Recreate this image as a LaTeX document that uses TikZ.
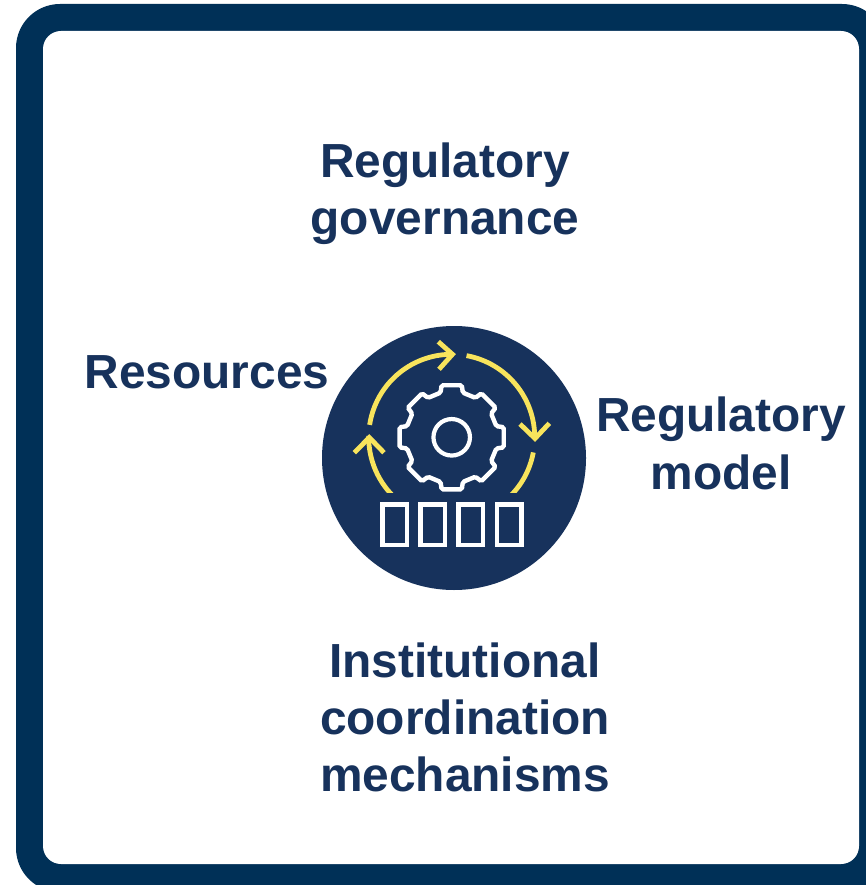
\documentclass[tikz,border=0pt]{standalone}
\usepackage{fontspec}
\setmainfont{Liberation Sans}
\definecolor{framenavy}{HTML}{003057}
\definecolor{inknavy}{HTML}{17325C}
\definecolor{arcyellow}{HTML}{F8E45C}
\tikzset{
  label text/.style={text=inknavy,font=\fontsize{47.85}{57.3}\selectfont\bfseries,align=center,inner sep=0pt},
  cycle arc/.style={draw=arcyellow,line width=4.8pt,line cap=butt},
  arrow head/.style={draw=arcyellow,line width=4.8pt,line join=miter},
  gear line/.style={draw=white,line width=4.4pt},
  slot box/.style={draw=white,line width=4.4pt,fill=none,minimum width=24.8pt,minimum height=40.6pt,inner sep=0pt}
}
\begin{document}
\begin{tikzpicture}[x=1pt,y=-1pt]
\useasboundingbox (0,0) rectangle (866,885);
\clip (0,0) rectangle (866,885);
\fill[white] (0,0) rectangle (866,885);
\fill[framenavy,rounded corners=44pt] (16,4) rectangle (886,892);
\fill[white,rounded corners=18pt] (43,31) rectangle (859,864);
\node[circle,fill=inknavy,minimum size=264pt,inner sep=0pt] (hub) at (454,458) {};
\coordinate (gc) at (451.7,437.3);
% cycle arcs
\begin{scope}[shift={(gc)},y=1pt]
\draw[cycle arc] (171.4:83) arc[start angle=171.4,end angle=91,radius=83];
\draw[cycle arc] (79.7:83) arc[start angle=79.7,end angle=-1,radius=83];
\begin{scope}
\clip (-100,-55.4) rectangle (100,100);
\draw[cycle arc] (-10.5:83) arc[start angle=-10.5,end angle=-47,radius=83];
\draw[cycle arc] (228:83) arc[start angle=228,end angle=179,radius=83];
\end{scope}
% gear
\draw[gear line,rounded corners=1.6pt]
  (-14:46) -- (-11:53) -- (11:53) -- (14:46)
  \foreach \a in {45,90,135,180,225,270,315} { -- (\a-14:46) -- (\a-11:53) -- (\a+11:53) -- (\a+14:46) } -- cycle;
\node[circle,draw=white,line width=4.2pt,minimum size=36.5pt,inner sep=0pt] (hubcore) at (0,0) {};
\end{scope}
% arrow heads (reference pixels)
\draw[arrow head] (438.3,341.7) -- (452.5,354.3) -- (439,369.3);
\draw[arrow head] (520,424) -- (535,438.5) -- (549.3,423.3);
\draw[arrow head] (354.3,452.7) -- (369.3,437.5) -- (384,452.7);
% slots
\node[slot box] (slotA) at (394.7,524.8) {};
\node[slot box] (slotB) at (432.8,524.8) {};
\node[slot box] (slotC) at (470.8,524.8) {};
\node[slot box] (slotD) at (509.2,524.8) {};
% labels
\node[label text] (gov) at (445,194) {Regulatory\\governance};
\node[label text] (res) at (207,372) {Resources};
\node[label text] (mod) at (721,443.5) {Regulatory\\model};
\node[label text] (inst) at (465,717.5) {Institutional\\coordination\\mechanisms};
\end{tikzpicture}
\end{document}
